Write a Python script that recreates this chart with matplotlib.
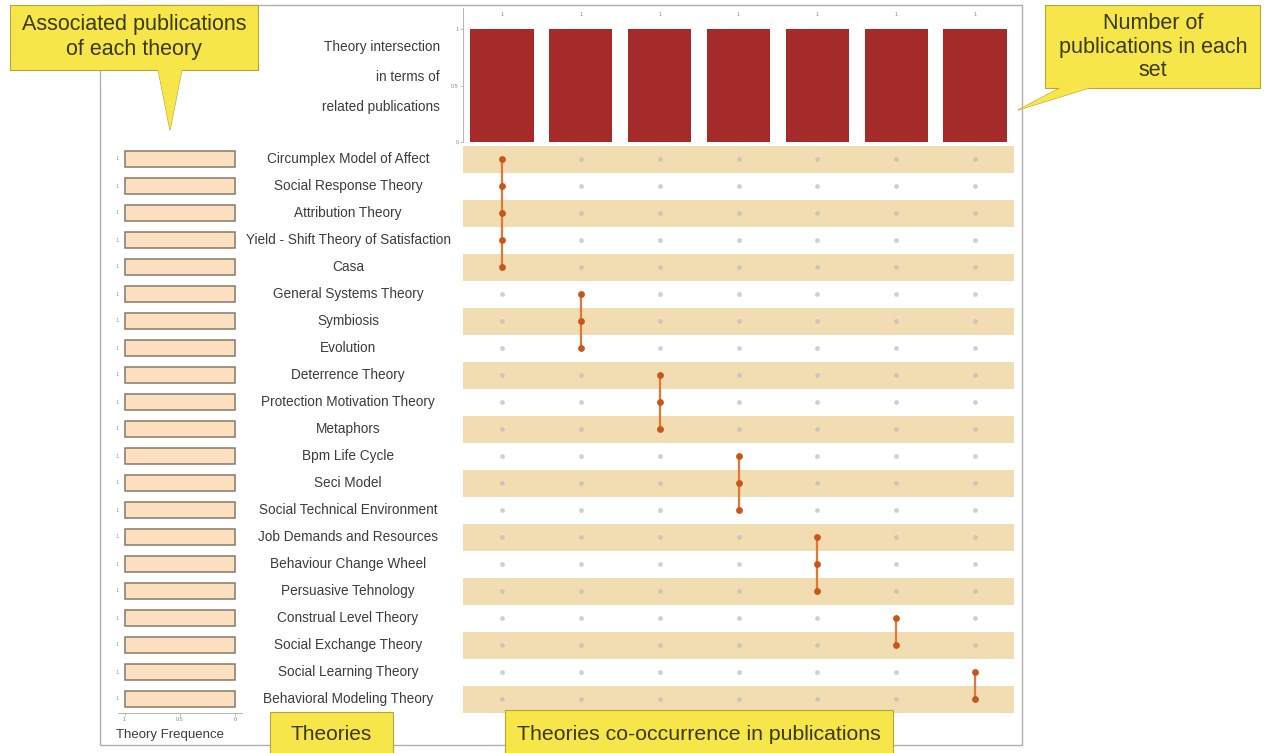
import numpy as np
import matplotlib.pyplot as plt
from matplotlib.patches import Rectangle, Polygon
from matplotlib.transforms import blended_transform_factory

plt.rcParams.update({'font.family': ['Liberation Sans', 'DejaVu Sans']})

theories = ['Circumplex Model of Affect', 'Social Response Theory', 'Attribution Theory',
            'Yield - Shift Theory of Satisfaction', 'Casa', 'General Systems Theory',
            'Symbiosis', 'Evolution', 'Deterrence Theory', 'Protection Motivation Theory',
            'Metaphors', 'Bpm Life Cycle', 'Seci Model', 'Social Technical Environment',
            'Job Demands and Resources', 'Behaviour Change Wheel', 'Persuasive Tehnology',
            'Construal Level Theory', 'Social Exchange Theory', 'Social Learning Theory',
            'Behavioral Modeling Theory']
theory_freq = [1] * 21
intersection_size = [1, 1, 1, 1, 1, 1, 1]
# which theories (row index) are in each intersection
members = [[0, 1, 2, 3, 4], [5, 6, 7], [8, 9, 10], [11, 12, 13],
           [14, 15, 16], [17, 18], [19, 20]]

W, H = 1267, 753
fig = plt.figure(figsize=(W / 100, H / 100), dpi=100)

def fx(x):
    return x / W

def fy(y):
    return 1 - y / H

def box(x0, y0, x1, y1):
    # axes rect from pixel corners
    return [fx(x0), fy(y1), fx(x1) - fx(x0), fy(y0) - fy(y1)]

# outer frame
fig.patches.append(Rectangle((fx(100), fy(745)), fx(1022) - fx(100), fy(5) - fy(745),
                             transform=fig.transFigure, fill=False, ec='#b0b0b0', lw=1))

n = len(theories)
ncol = len(intersection_size)
txt = '#3c3c3c'

# intersection bars
axb = fig.add_axes(box(462.6, 8, 1014.4, 142))
axb.bar(range(ncol), intersection_size, width=0.8, color='#a52a2a')
for i, v in enumerate(intersection_size):
    axb.text(i, 1.13, str(v), ha='center', va='center', fontsize=4, color='#888888')
axb.set_xlim(-0.5, ncol - 0.5)
axb.set_ylim(0, 1.19)
axb.set_xticks([])
axb.set_yticks([0, 0.5, 1])
axb.set_yticklabels(['0', '0.5', '1'], fontsize=4, color='#888888')
axb.tick_params(axis='y', length=2, width=0.5, color='#aaaaaa', pad=1)
for s in ['top', 'right', 'bottom']:
    axb.spines[s].set_visible(False)
axb.spines['left'].set_color('#aaaaaa')
axb.spines['left'].set_linewidth(0.6)
axb.patch.set_alpha(0)
for k, line in enumerate(['Theory intersection', 'in terms of', 'related publications']):
    fig.text(fx(440), fy(47 + 30 * k), line, ha='right', va='center', fontsize=9.8, color=txt)

# matrix
axm = fig.add_axes(box(462.6, 145.5, 1014.4, 712.5))
axm.set_xlim(-0.5, ncol - 0.5)
axm.set_ylim(n - 0.5, -0.5)
for r in range(0, n, 2):
    axm.axhspan(r - 0.5, r + 0.5, color='#f2dcb2', lw=0, zorder=0)
xx, yy = np.meshgrid(range(ncol), range(n))
axm.scatter(xx.ravel(), yy.ravel(), s=12, color='#bdbdbd', alpha=0.7, lw=0, zorder=2)
for c, rows in enumerate(members):
    axm.plot([c] * len(rows), rows, color='#e07838', lw=1.6, zorder=3)
    axm.scatter([c] * len(rows), rows, s=24, color='#c8561a', lw=0, zorder=4)
axm.set_xticks([])
axm.set_yticks([])
for s in axm.spines.values():
    s.set_visible(False)
tr = blended_transform_factory(fig.transFigure, axm.transData)
for r, name in enumerate(theories):
    axm.text(fx(348), r, name, transform=tr, ha='center', va='center',
             fontsize=9.8, color=txt, clip_on=False)

# theory frequence bars
axl = fig.add_axes(box(118, 145.5, 242, 712.5))
axl.barh(range(n), theory_freq, height=0.6, color='#fde0c0', edgecolor='#85796a', lw=1.1)
for r, v in enumerate(theory_freq):
    axl.text(1.05, r, str(v), ha='right', va='center', fontsize=4, color='#999999')
axl.set_xlim(1.06, -0.06)
axl.set_ylim(n - 0.5, -0.5)
axl.set_yticks([])
axl.set_xticks([1, 0.5, 0])
axl.set_xticklabels(['1', '0.5', '0'], fontsize=4, color='#888888')
axl.tick_params(axis='x', length=2, width=0.5, color='#aaaaaa', pad=1)
for s in ['top', 'right', 'left']:
    axl.spines[s].set_visible(False)
axl.spines['bottom'].set_color('#aaaaaa')
axl.spines['bottom'].set_linewidth(0.6)
axl.patch.set_alpha(0)
fig.text(fx(170), fy(735), 'Theory Frequence', ha='center', va='center', fontsize=9.5, color=txt)

# yellow callouts
yel = '#f6e64a'
edge = '#b9a535'
tcol = '#3a3a0c'

def callout(x0, y0, x1, y1, tip=None):
    if tip is not None:
        fig.patches.append(Polygon([(fx(p[0]), fy(p[1])) for p in tip], closed=True,
                                   transform=fig.transFigure, fc=yel, ec=edge, lw=0.8, zorder=5))
    fig.patches.append(Rectangle((fx(x0), fy(y1)), fx(x1) - fx(x0), fy(y0) - fy(y1),
                                 transform=fig.transFigure, fc=yel, ec=edge, lw=0.8, zorder=6))
    if tip is not None:
        # hide the seam between pointer and box
        fig.patches.append(Polygon([(fx(p[0]), fy(p[1])) for p in tip], closed=True,
                                   transform=fig.transFigure, fc=yel, ec='none', lw=0, zorder=7))

callout(10, 5, 258, 70, tip=[(158, 69), (182, 69), (170, 130)])
fig.text(fx(134), fy(37), 'Associated publications\nof each theory', ha='center', va='center',
         fontsize=15.5, color=tcol, linespacing=1.25, zorder=8)

callout(1045, 5, 1260, 88, tip=[(1062, 87), (1092, 87), (1018, 110)])
fig.text(fx(1153), fy(47), 'Number of\npublications in each\nset', ha='center', va='center',
         fontsize=15.5, color=tcol, linespacing=1.15, zorder=8)

callout(270, 712, 393, 760)
fig.text(fx(331), fy(735), 'Theories', ha='center', va='center', fontsize=15, color=tcol, zorder=8)

callout(505, 710, 893, 760)
fig.text(fx(699), fy(735), 'Theories co-occurrence in publications', ha='center', va='center',
         fontsize=15.3, color=tcol, zorder=8)

plt.savefig('out.png', dpi=100)
